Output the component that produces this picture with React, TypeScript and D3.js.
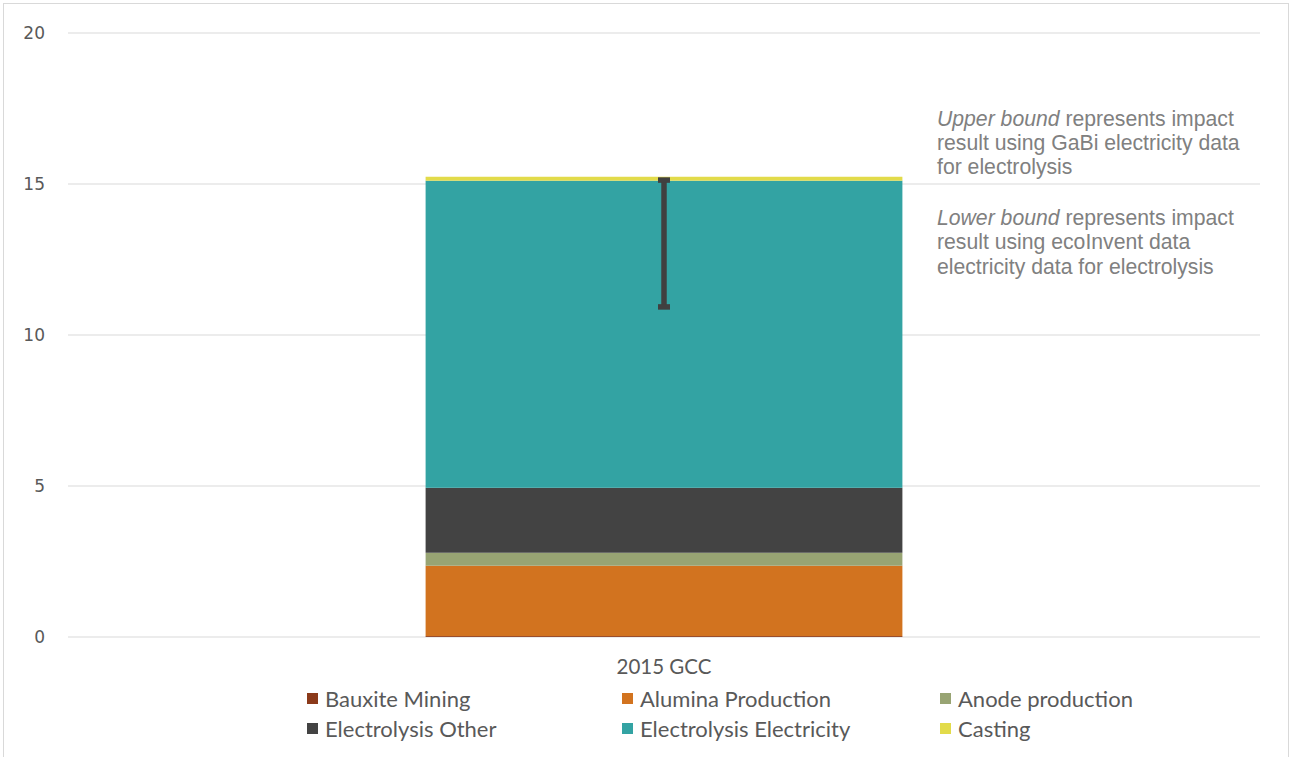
import React from "react";
import * as d3 from "d3";

const categories = ["2015 GCC"];
const seriesNames = ["Bauxite Mining", "Alumina Production", "Anode production", "Electrolysis Other", "Electrolysis Electricity", "Casting"];
const seriesColors = ["#8B3A1A", "#D2731F", "#98A473", "#434343", "#33A3A3", "#E2DB4A"];
const seriesValues = [0.03, 2.33, 0.43, 2.15, 10.17, 0.13];
const errorLower = [10.93];
const errorUpper = [15.13];
const yTicks = [0, 5, 10, 15, 20];
const upperNote = ["Upper bound", " represents impact", "result using GaBi electricity data", "for electrolysis"];
const lowerNote = ["Lower bound", " represents impact", "result using ecoInvent data", "electricity data for electrolysis"];

export default function App() {
  const W = 1290, H = 757;
  const left = 68, right = 1260, top = 33, bottom = 637;
  const y = d3.scaleLinear().domain([0, 20]).range([bottom, top]);
  const x = d3.scaleBand().domain(categories).range([left, right]).paddingInner(0.6).paddingOuter(0.3);
  const bw = x.bandwidth();
  const cx = (x(categories[0]) as number) + bw / 2;

  const stack = d3.stack<any>().keys(seriesNames)([Object.fromEntries(seriesNames.map((n, i) => [n, seriesValues[i]]))]);

  const legendCols = [307, 622, 940];
  const legendRows = [699, 729];

  return (
    <svg width={W} height={H} style={{ position: "absolute", left: 0, top: 0, background: "#fff" }}>
      <rect x={3.5} y={3.5} width={1285} height={H} fill="none" stroke="#d9d9d9" strokeWidth={1} />
      {yTicks.map((t) => (
        <g key={t}>
          <line x1={left} x2={right} y1={y(t)} y2={y(t)} stroke="#d9d9d9" strokeWidth={1.2} />
          <text x={45} y={y(t)} dy="0.35em" textAnchor="end" fontFamily="DejaVu Sans" fontSize={17} fill="#595959">{t}</text>
        </g>
      ))}
      {stack.map((s, i) => (
        <rect key={i} x={x(categories[0])} y={y(s[0][1])} width={bw} height={y(s[0][0]) - y(s[0][1])} fill={seriesColors[i]} />
      ))}
      <g stroke="#404040" strokeWidth={5.5}>
        <line x1={cx} x2={cx} y1={y(errorUpper[0])} y2={y(errorLower[0])} />
        <line x1={cx - 6} x2={cx + 6} y1={y(errorUpper[0])} y2={y(errorUpper[0])} />
        <line x1={cx - 6} x2={cx + 6} y1={y(errorLower[0])} y2={y(errorLower[0])} />
      </g>
      <g fontFamily="'Liberation Sans', Arial, sans-serif" fontSize={21.2} fill="#808080">
        <text x={937} y={126}><tspan fontStyle="italic">{upperNote[0]}</tspan><tspan>{upperNote[1]}</tspan></text>
        <text x={937} y={150}>{upperNote[2]}</text>
        <text x={937} y={174}>{upperNote[3]}</text>
        <text x={937} y={225}><tspan fontStyle="italic">{lowerNote[0]}</tspan><tspan>{lowerNote[1]}</tspan></text>
        <text x={937} y={249}>{lowerNote[2]}</text>
        <text x={937} y={274}>{lowerNote[3]}</text>
      </g>
      <text x={cx} y={667} dy="0.35em" textAnchor="middle" fontFamily="Lato" fontSize={20.5} fill="#595959">{categories[0]}</text>
      {seriesNames.map((n, i) => {
        const lx = legendCols[i % 3];
        const ly = legendRows[Math.floor(i / 3)];
        return (
          <g key={n}>
            <rect x={lx} y={ly - 6} width={11} height={11} fill={seriesColors[i]} />
            <text x={lx + 18} y={ly} dy="0.35em" fontFamily="Lato" fontSize={22} fill="#595959">{n}</text>
          </g>
        );
      })}
    </svg>
  );
}
